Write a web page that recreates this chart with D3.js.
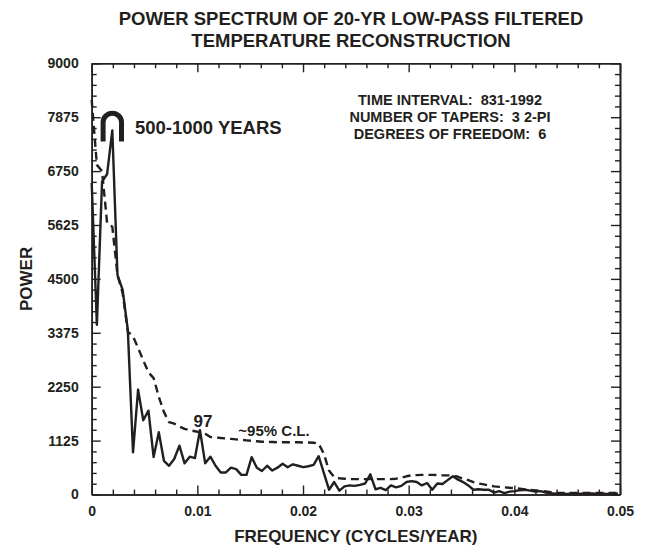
<!DOCTYPE html>
<html><head><meta charset="utf-8">
<script src="https://cdn.jsdelivr.net/npm/d3@7"></script>
<style>
body{margin:0;background:#fff}
text{font-family:"Liberation Sans",Arial,Helvetica,sans-serif;font-weight:bold;fill:#231f20;white-space:pre}
</style>
</head><body>
<svg id="chart" width="649" height="549"></svg>
<script>
// frequency (cycles/year)
const freq = [
0, 0.00049, 0.00098, 0.00146, 0.00195, 0.00244, 0.00293, 0.00342, 0.00391, 0.00439,
0.00488, 0.00537, 0.00586, 0.00635, 0.00684, 0.00732, 0.00781, 0.00830, 0.00879, 0.00928,
0.00977, 0.01025, 0.01074, 0.01123, 0.01172, 0.01221, 0.01270, 0.01318, 0.01367, 0.01416,
0.01465, 0.01514, 0.01563, 0.01611, 0.01660, 0.01709, 0.01758, 0.01807, 0.01855, 0.01904,
0.01953, 0.02002, 0.02051, 0.02100, 0.02148, 0.02197, 0.02246, 0.02295, 0.02344, 0.02393,
0.02441, 0.02490, 0.02539, 0.02588, 0.02637, 0.02686, 0.02734, 0.02783, 0.02832, 0.02881,
0.02930, 0.02979, 0.03027, 0.03076, 0.03125, 0.03174, 0.03223, 0.03271, 0.03320, 0.03369,
0.03418, 0.03467, 0.03516, 0.03564, 0.03613, 0.03662, 0.03711, 0.03760, 0.03809, 0.03857,
0.03906, 0.03955, 0.04004, 0.04053, 0.04102, 0.04150, 0.04199, 0.04248, 0.04297, 0.04346,
0.04395, 0.04443, 0.04492, 0.04541, 0.04590, 0.04639, 0.04688, 0.04736, 0.04785, 0.04834,
0.04883, 0.04932, 0.04980];

// spectral power (solid line)
const power = [
6500, 3540, 6530, 6690, 7600, 4580, 4270, 3430, 880, 2190,
1550, 1750, 780, 1300, 700, 600, 740, 1020, 650, 790,
760, 1340, 650, 790, 600, 460, 460, 560, 530, 410,
410, 780, 560, 490, 600, 500, 560, 640, 570, 630,
600, 570, 590, 620, 800, 450, 100, 260, 80, 170,
190, 180, 200, 230, 420, 110, 140, 90, 190, 150,
180, 260, 280, 260, 190, 240, 100, 230, 220, 300,
380, 310, 260, 190, 100, 110, 100, 100, 40, 70,
30, 60, 70, 90, 100, 80, 60, 70, 40, 25,
15, 25, 10, 15, 10, 15, 10, 20, 10, 15,
10, 20, 15];

// ~95% confidence level (dashed line)
const conf95 = [
8235, 6880, 6750, 5660, 5590, 4580, 4200, 3400, 3300, 3060,
2800, 2550, 2430, 2040, 1720, 1510, 1480, 1420, 1370, 1340,
1320, 1300, 1270, 1200, 1190, 1180, 1170, 1160, 1150, 1140,
1130, 1120, 1110, 1100, 1100, 1095, 1090, 1090, 1090, 1090,
1090, 1085, 1085, 1080, 1060, 850, 500, 360, 340, 330,
320, 320, 320, 320, 320, 320, 320, 320, 320, 330,
350, 380, 400, 405, 410, 410, 410, 405, 400, 400,
395, 370, 330, 300, 260, 230, 210, 185, 170, 160,
150, 140, 135, 120, 105, 95, 85, 75, 65, 50,
35, 30, 30, 30, 30, 30, 30, 30, 30, 30,
30, 30, 30];

const yTicks = [0, 1125, 2250, 3375, 4500, 5625, 6750, 7875, 9000];
const yMinorTicks = [225,450,675,900,1350,1575,1800,2025,2475,2700,2925,3150,3600,3825,4050,4275,
  4725,4950,5175,5400,5850,6075,6300,6525,6975,7200,7425,7650,8100,8325,8550,8775];
const xTicks = [0, 0.01, 0.02, 0.03, 0.04, 0.05];
const xMinorTicks = [0.002,0.004,0.006,0.008,0.012,0.014,0.016,0.018,0.022,0.024,0.026,0.028,
  0.032,0.034,0.036,0.038,0.042,0.044,0.046,0.048];
const titleLines = ["POWER SPECTRUM OF 20-YR LOW-PASS FILTERED", "TEMPERATURE RECONSTRUCTION"];
const infoLines = ["TIME INTERVAL:  831-1992", "NUMBER OF TAPERS:  3 2-PI", "DEGREES OF FREEDOM:  6"];
const xLabel = "FREQUENCY (CYCLES/YEAR)";
const yLabel = "POWER";
const periodLabel = "500-1000 YEARS";
const peakLabel = "97";
const confLabel = "~95% C.L.";

const svg = d3.select("#chart");
const L = 91.7, R = 620, T = 63.3, B = 494.5;
const x = d3.scaleLinear().domain([0, 0.05]).range([L, R]);
const y = d3.scaleLinear().domain([0, 9000]).range([B, T]);
const ink = "#231f20";

function styleAxis(g){
  g.selectAll(".domain").attr("stroke", ink).attr("stroke-width", 1.6);
  g.selectAll(".tick line").attr("stroke", ink).attr("stroke-width", 1.4);
  g.selectAll("text").attr("fill", ink).style("font-size", "14px").style("font-weight", "bold")
    .style("font-family", '"Liberation Sans",Arial,sans-serif');
}
const MAJ = 9, MIN = 5;

// bottom
svg.append("g").attr("transform", `translate(0,${B})`)
  .call(d3.axisBottom(x).tickValues(xMinorTicks).tickSize(-MIN).tickSizeOuter(0).tickFormat(""))
  .call(styleAxis);
svg.append("g").attr("transform", `translate(0,${B})`)
  .call(d3.axisBottom(x).tickValues(xTicks).tickSize(-MAJ).tickSizeOuter(0).tickPadding(12)
    .tickFormat(d => d === 0 ? "0" : d3.format(".2f")(d)))
  .call(styleAxis);
// top
svg.append("g").attr("transform", `translate(0,${T})`)
  .call(d3.axisTop(x).tickValues(xMinorTicks).tickSize(-MIN).tickSizeOuter(0).tickFormat(""))
  .call(styleAxis);
svg.append("g").attr("transform", `translate(0,${T})`)
  .call(d3.axisTop(x).tickValues(xTicks).tickSize(-MAJ).tickSizeOuter(0).tickFormat(""))
  .call(styleAxis);
// left
svg.append("g").attr("transform", `translate(${L},0)`)
  .call(d3.axisLeft(y).tickValues(yMinorTicks).tickSize(-MIN).tickSizeOuter(0).tickFormat(""))
  .call(styleAxis);
svg.append("g").attr("transform", `translate(${L},0)`)
  .call(d3.axisLeft(y).tickValues(yTicks).tickSize(-MAJ).tickSizeOuter(0).tickPadding(13).tickFormat(d3.format("d")))
  .call(styleAxis);
// right
svg.append("g").attr("transform", `translate(${R},0)`)
  .call(d3.axisRight(y).tickValues(yMinorTicks).tickSize(-MIN).tickSizeOuter(0).tickFormat(""))
  .call(styleAxis);
svg.append("g").attr("transform", `translate(${R},0)`)
  .call(d3.axisRight(y).tickValues(yTicks).tickSize(-MAJ).tickSizeOuter(0).tickFormat(""))
  .call(styleAxis);

// data lines
const solidData = freq.map((f, i) => ({f, v: power[i]}));
const dashData = freq.map((f, i) => ({f, v: conf95[i]}));
const line = d3.line().x(d => x(d.f)).y(d => y(d.v));

svg.append("path").datum(dashData).attr("d", line)
  .attr("fill", "none").attr("stroke", ink).attr("stroke-width", 2.4)
  .attr("stroke-dasharray", "8,5").attr("stroke-linejoin", "round");
svg.append("path").datum(solidData).attr("d", line)
  .attr("fill", "none").attr("stroke", ink).attr("stroke-width", 2.4)
  .attr("stroke-linejoin", "round");

// period annotation (arch over the spectral peak)
const pk = power.indexOf(d3.max(power));
const cx = x(freq[pk]), py = y(power[pk]);
const r = 9.2;
svg.append("path")
  .attr("d", `M${cx - r},${py + 11} L${cx - r},${py - 8} A${r},${r} 0 0 1 ${cx + r},${py - 8} L${cx + r},${py + 11}`)
  .attr("fill", "none").attr("stroke", ink).attr("stroke-width", 5);
svg.append("text").attr("x", cx + 22.6).attr("y", py + 4).style("font-size", "18.5px").text(periodLabel);

// 97-year peak label
const i97 = 21;
svg.append("text").attr("x", x(freq[i97]) + 3).attr("y", y(power[i97]) - 3)
  .attr("text-anchor", "middle").style("font-size", "17px").text(peakLabel);
// confidence label
svg.append("text").attr("x", x(0.01388)).attr("y", y(1230))
  .style("font-size", "15px").text(confLabel);

// info block
svg.selectAll(".info").data(infoLines).enter().append("text")
  .attr("x", 450).attr("y", (d, i) => 105 + i * 17).attr("text-anchor", "middle")
  .style("font-size", "14.5px").text(d => d);

// title
svg.selectAll(".title").data(titleLines).enter().append("text")
  .attr("x", 351).attr("y", (d, i) => 25 + i * 22).attr("text-anchor", "middle")
  .style("font-size", "18.5px").text(d => d);

// axis titles
svg.append("text").attr("x", (L + R) / 2).attr("y", 542).attr("text-anchor", "middle")
  .style("font-size", "17px").text(xLabel);
svg.append("text").attr("transform", `translate(32,${(T + B) / 2}) rotate(-90)`).attr("text-anchor", "middle")
  .style("font-size", "17px").text(yLabel);
</script>
</body></html>
